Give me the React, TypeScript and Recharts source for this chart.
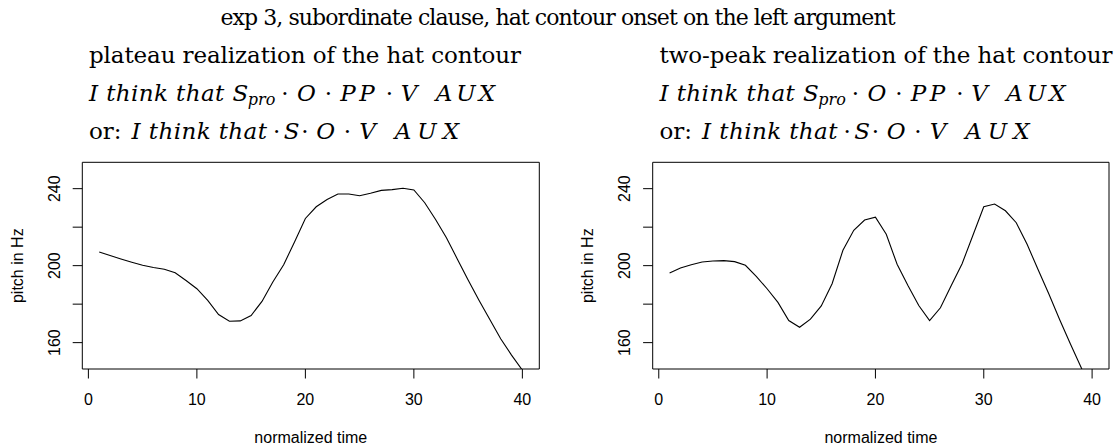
import { LineChart, Line, XAxis, YAxis, ReferenceArea } from 'recharts';

// normalized time steps
const timeSteps = [1, 2, 3, 4, 5, 6, 7, 8, 9, 10, 11, 12, 13, 14, 15, 16, 17, 18, 19, 20,
  21, 22, 23, 24, 25, 26, 27, 28, 29, 30, 31, 32, 33, 34, 35, 36, 37, 38, 39, 40];

// plateau realization (Hz)
const plateauHz = [207.1, 205.3, 203.5, 201.8, 200.2, 199.0, 198.1, 196.3, 192.3, 188.0,
  182.0, 174.6, 171.1, 171.3, 174.1, 181.4, 191.5, 200.5, 212.3, 224.5,
  230.6, 234.4, 237.2, 237.2, 236.3, 237.6, 239.1, 239.5, 240.2, 239.3,
  232.7, 224.0, 214.5, 203.5, 192.5, 182.0, 172.0, 162.0, 153.5, 145.7];

// two-peak realization (Hz)
const twoPeakHz = [196.2, 198.8, 200.5, 201.9, 202.4, 202.6, 202.1, 200.2, 194.4, 188.0,
  180.9, 171.5, 168.0, 172.2, 179.1, 190.6, 208.0, 218.4, 223.7, 225.2,
  216.3, 200.7, 189.7, 179.3, 171.5, 178.1, 189.7, 201.0, 215.8, 230.6,
  232.0, 228.5, 222.3, 211.1, 198.1, 185.4, 172.0, 159.3, 147.0, 133.0];

const xTicks = [0, 10, 20, 30, 40];
const yTicks = [160, 180, 200, 220, 240];
const yLabelled = [160, 200, 240];

const X_DOMAIN: [number, number] = [-0.56, 41.56];
const Y_DOMAIN: [number, number] = [146.3, 253.7];

const SANS = '"Liberation Sans", Arial, Helvetica, sans-serif';
const SERIF = '"DejaVu Serif", serif';

function YTick({ x, y, payload }: any) {
  if (!yLabelled.includes(payload.value)) return <g />;
  return (
    <text x={x} y={y} transform={`rotate(-90 ${x} ${y})`} textAnchor="middle" dy="0.36em"
      fontSize={16} fontFamily={SANS} fill="#000">
      {payload.value}
    </text>
  );
}

function Panel({ values, left, marginLeft, marginRight }: { values: number[]; left: number; marginLeft: number; marginRight: number }) {
  const rows = timeSteps.map((t, i) => ({ t, hz: values[i] }));
  return (
    <div style={{ position: 'absolute', left, top: 0 }}>
      <LineChart width={558} height={447} data={rows}
        margin={{ top: 162.3, right: marginRight, bottom: 0, left: marginLeft }}>
        <XAxis dataKey="t" type="number" domain={X_DOMAIN} allowDataOverflow ticks={xTicks} interval={0}
          height={78} axisLine={false} tickSize={9.5} tickMargin={15} tickLine={{ stroke: '#000' }}
          tick={{ fontSize: 16, fill: '#000', fontFamily: SANS }} />
        <YAxis type="number" domain={Y_DOMAIN} allowDataOverflow ticks={yTicks} interval={0}
          width={60} axisLine={false} tickSize={9.6} tickMargin={18.4} tickLine={{ stroke: '#000' }}
          tick={<YTick />} />
        <ReferenceArea x1={X_DOMAIN[0]} x2={X_DOMAIN[1]} y1={Y_DOMAIN[0]} y2={Y_DOMAIN[1]}
          fill="none" stroke="#000" strokeWidth={1} ifOverflow="visible" />
        <Line type="linear" dataKey="hz" stroke="#000" strokeWidth={1.1} dot={false} isAnimationActive={false} />
      </LineChart>
    </div>
  );
}

// math symbols are centred one by one, the way TeX spaces math italic
function M({ at, x, children, upright }: { at: number; x: number; children: string; upright?: boolean }) {
  return <tspan x={x + at} textAnchor="middle" fontStyle={upright ? 'normal' : 'italic'}>{children}</tspan>;
}

function Captions({ x, heading, headingWidth }: { x: number; heading: string; headingWidth: number }) {
  return (
    <g fontFamily={SERIF} fontSize={23} fill="#000">
      <text x={x} y={63} textLength={headingWidth} lengthAdjust="spacing">{heading}</text>
      <text y={101}>
        <tspan x={x} fontStyle="italic" letterSpacing={0.4}>I think that</tspan>
        <M x={x} at={151.5}>S</M>
        <tspan x={x + 172.5} dy={4} textAnchor="middle" fontStyle="italic" fontSize={16}>pro</tspan>
        <tspan x={x + 196} dy={-4} textAnchor="middle">·</tspan>
        <M x={x} at={217.5}>O</M>
        <M x={x} at={239.3} upright>·</M>
        <M x={x} at={259}>P</M>
        <M x={x} at={278}>P</M>
        <M x={x} at={300.3} upright>·</M>
        <M x={x} at={320}>V</M>
        <M x={x} at={355}>A</M>
        <M x={x} at={377}>U</M>
        <M x={x} at={398}>X</M>
      </text>
      <text y={139}>
        <tspan x={x}>or:</tspan>
        <tspan x={x + 178.3} textAnchor="end" fontStyle="italic" letterSpacing={0.4}>I think that</tspan>
        <M x={x} at={187.7} upright>·</M>
        <M x={x} at={202.7}>S</M>
        <M x={x} at={216} upright>·</M>
        <M x={x} at={236.8}>O</M>
        <M x={x} at={258.3} upright>·</M>
        <M x={x} at={278.5}>V</M>
        <M x={x} at={314}>A</M>
        <M x={x} at={338}>U</M>
        <M x={x} at={362}>X</M>
      </text>
    </g>
  );
}

export default function App() {
  return (
    <div style={{ position: 'absolute', left: 0, top: 0, width: 1116, height: 447, background: '#fff' }}>
      <Panel values={plateauHz} left={0} marginLeft={22.3} marginRight={18.7} />
      <Panel values={twoPeakHz} left={558} marginLeft={34.7} marginRight={7} />
      <svg width={1116} height={447} style={{ position: 'absolute', left: 0, top: 0, pointerEvents: 'none' }}>
        <text x={558} y={25} textAnchor="middle" fontFamily={SERIF} fontSize={22} textLength={675} lengthAdjust="spacing">
          exp 3, subordinate clause, hat contour onset on the left argument
        </text>
        <Captions x={89} heading="plateau realization of the hat contour" headingWidth={432} />
        <Captions x={659.5} heading="two-peak realization of the hat contour" headingWidth={453} />
        <g fontFamily={SANS} fontSize={16} fill="#000" textAnchor="middle">
          <text x={17} y={265.7} dy="0.36em" transform="rotate(-90 17 265.7)">pitch in Hz</text>
          <text x={587.4} y={265.7} dy="0.36em" transform="rotate(-90 587.4 265.7)">pitch in Hz</text>
          <text x={310.8} y={437.3} dy="0.36em">normalized time</text>
          <text x={880.9} y={437.3} dy="0.36em">normalized time</text>
        </g>
      </svg>
    </div>
  );
}
